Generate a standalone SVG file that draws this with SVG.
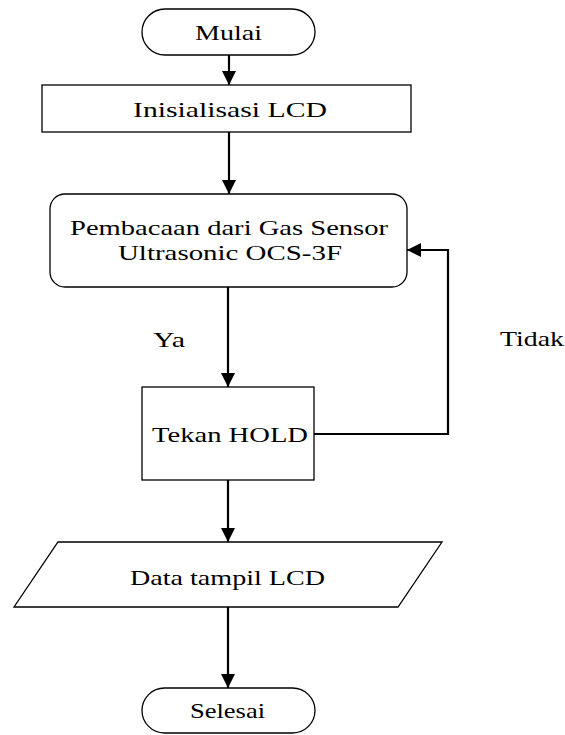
<svg xmlns="http://www.w3.org/2000/svg" width="565" height="735" viewBox="0 0 565 735">
<defs>
<style>
.box{fill:#fff;stroke:#000;stroke-width:1.3}
.t{font-family:"Liberation Serif","Times New Roman",serif;font-size:21px;fill:#000;text-anchor:middle}
.c{fill:none;stroke:#000;stroke-width:2.2}
</style>
<marker id="ah" viewBox="0 0 14 14" refX="14" refY="7" markerWidth="14" markerHeight="14" markerUnits="userSpaceOnUse" orient="auto">
<path d="M0,0 L14,7 L0,14 Z" fill="#000"/>
</marker>
</defs>
<rect width="565" height="735" fill="#fff"/>
<g id="connectors">
<line class="c" x1="229" y1="55" x2="229" y2="85" marker-end="url(#ah)"/>
<line class="c" x1="229" y1="132" x2="229" y2="194" marker-end="url(#ah)"/>
<line class="c" x1="228" y1="287" x2="228" y2="387" marker-end="url(#ah)"/>
<polyline class="c" points="314,434 448,434 448,250 407,250" marker-end="url(#ah)"/>
<line class="c" x1="228" y1="480" x2="228" y2="542" marker-end="url(#ah)"/>
<line class="c" x1="228" y1="607" x2="228" y2="688" marker-end="url(#ah)"/>
<text class="t" x="169" y="347" textLength="32" lengthAdjust="spacingAndGlyphs">Ya</text>
<text class="t" x="532" y="346" textLength="64" lengthAdjust="spacingAndGlyphs">Tidak</text>
</g>
<g id="mulai">
<rect class="box" x="142" y="9" width="173" height="46" rx="23" ry="23"/>
<text class="t" x="228.5" y="40" textLength="67" lengthAdjust="spacingAndGlyphs">Mulai</text>
</g>
<g id="inisialisasi">
<rect class="box" x="42" y="85" width="369" height="47"/>
<text class="t" x="230" y="117" textLength="194" lengthAdjust="spacingAndGlyphs">Inisialisasi LCD</text>
</g>
<g id="pembacaan">
<rect class="box" x="50" y="194" width="357" height="93" rx="15" ry="15"/>
<text class="t" x="229" y="235" textLength="318" lengthAdjust="spacingAndGlyphs">Pembacaan dari Gas Sensor</text>
<text class="t" x="230" y="260" textLength="224" lengthAdjust="spacingAndGlyphs">Ultrasonic OCS-3F</text>
</g>
<g id="tekan">
<rect class="box" x="142" y="387" width="172" height="93"/>
<text class="t" x="230" y="442" textLength="156" lengthAdjust="spacingAndGlyphs">Tekan HOLD</text>
</g>
<g id="data">
<polygon class="box" points="58,542 442,542 398,607 14,607"/>
<text class="t" x="227.5" y="585" textLength="195" lengthAdjust="spacingAndGlyphs">Data tampil LCD</text>
</g>
<g id="selesai">
<rect class="box" x="142" y="688" width="173" height="45" rx="22.5" ry="22.5"/>
<text class="t" x="227.5" y="718" textLength="75" lengthAdjust="spacingAndGlyphs">Selesai</text>
</g>
</svg>
